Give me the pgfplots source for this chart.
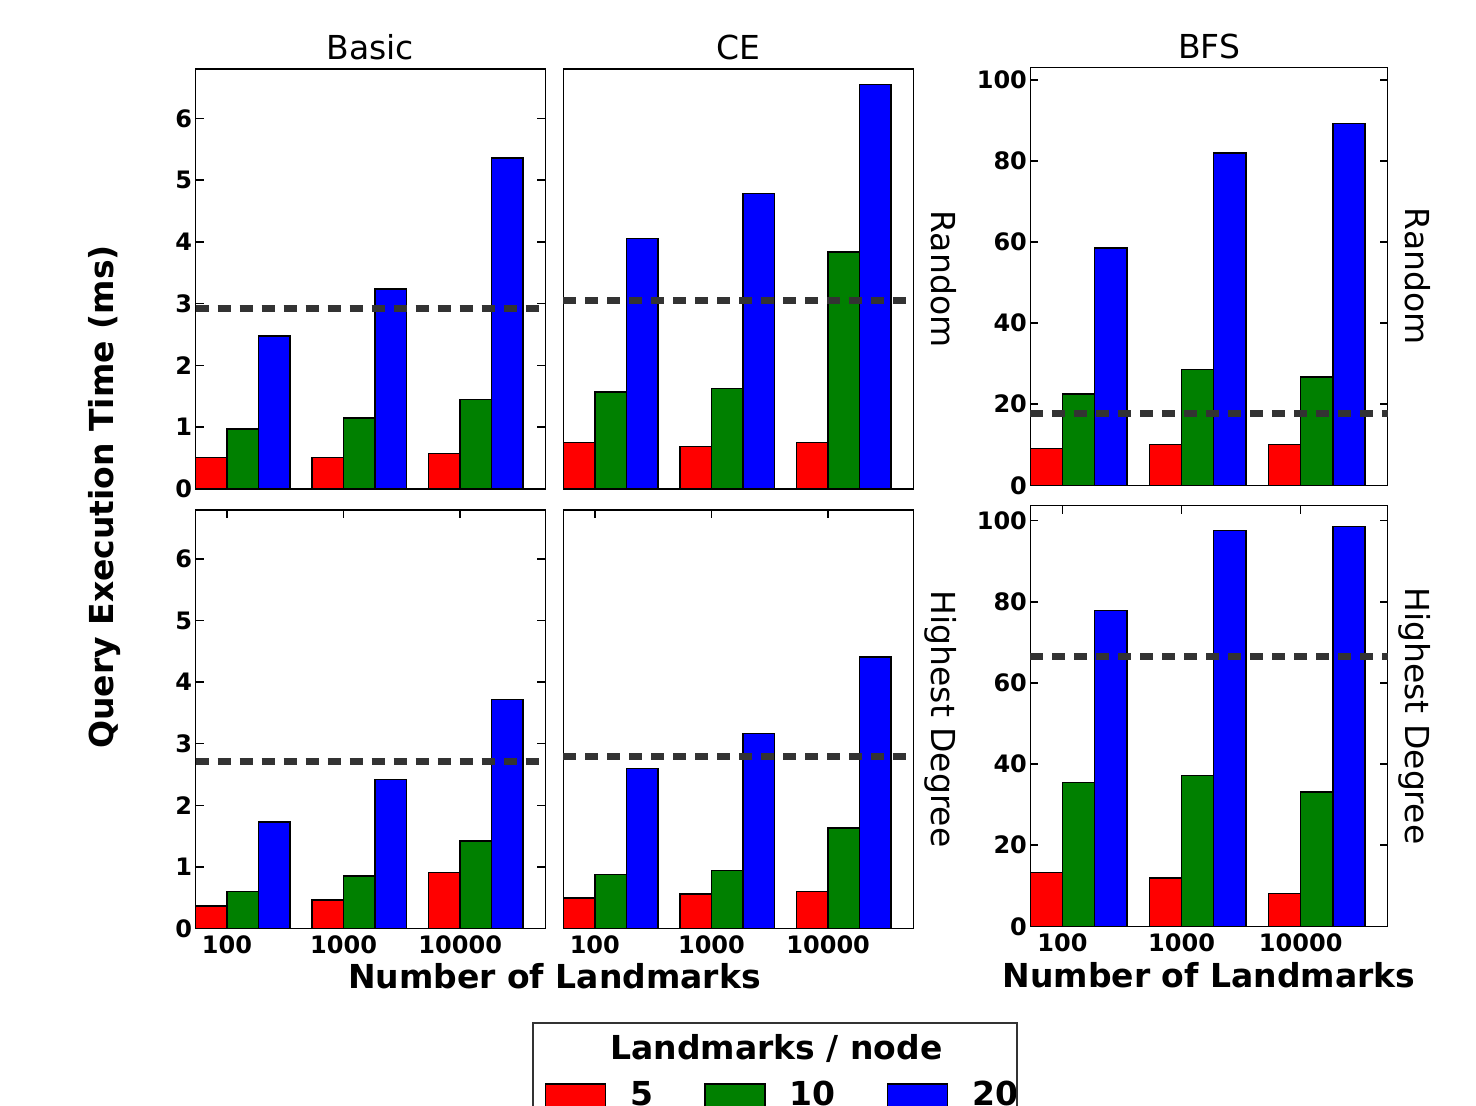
\documentclass[border=0pt]{standalone}
\usepackage{pgfplots}
\usepackage{pgfplotstable}
\pgfplotsset{compat=1.18}
\usepackage{fontspec}
\setmainfont{DejaVu Sans}
\definecolor{mplgreen}{rgb}{0,0.5,0}
\definecolor{dashgray}{rgb}{0.2,0.2,0.2}

% x = group index; r,g,b = 5,10,20 landmarks/node
\pgfplotstableread{
x r g b
0 0.51 0.97 2.48
1 0.51 1.15 3.24
2 0.57 1.45 5.36
}\basicrand
\pgfplotstableread{
x r g b
0 0.75 1.57 4.06
1 0.69 1.63 4.78
2 0.75 3.84 6.55
}\cerand
\pgfplotstableread{
x r g b
0 9.1 22.5 58.5
1 10.1 28.5 82.0
2 10.1 26.7 89.3
}\bfsrand
\pgfplotstableread{
x r g b
0 0.36 0.60 1.73
1 0.46 0.85 2.42
2 0.91 1.42 3.72
}\basichd
\pgfplotstableread{
x r g b
0 0.49 0.87 2.60
1 0.56 0.94 3.17
2 0.60 1.63 4.41
}\cehd
\pgfplotstableread{
x r g b
0 13.3 35.5 77.8
1 11.9 37.2 97.6
2 8.1 33.1 98.5
}\bfshd

\newcommand{\bigfont}{\fontsize{16.5}{19}\selectfont}
\newcommand{\bars}[1]{%
  \addplot[ybar, bar width=0.27, bar shift=0.135, fill=red, draw=black, line width=0.7pt] table[x=x,y=r]{#1};
  \addplot[ybar, bar width=0.27, bar shift=0.405, fill=mplgreen, draw=black, line width=0.7pt] table[x=x,y=g]{#1};
  \addplot[ybar, bar width=0.27, bar shift=0.675, fill=blue, draw=black, line width=0.7pt] table[x=x,y=b]{#1};
}
\newcommand{\refline}[1]{%
  \addplot[dashgray, line width=3.5pt, dash pattern=on 6.5pt off 4.5pt, forget plot] coordinates {(0,#1) (3,#1)};
}

\pgfplotsset{
  panel/.style={
    scale only axis, anchor=south west, clip=false,
    xmin=0, xmax=3, ymin=0,
    axis line style={line width=0.75pt},
    every tick/.style={black, line width=0.75pt},
    tick align=inside, major tick length=4pt,
    ticklabel style={font=\bfseries\fontsize{12}{14}\selectfont},
    /pgf/number format/assume math mode=true,
    yticklabel style={inner sep=1.5pt},
    xticklabel style={inner sep=3.5pt},
    ytick pos=both,
    title style={font=\bigfont, at={(0.5,1)}, anchor=base, yshift=-1.5pt},
  },
  toprow/.style={xtick=\empty},
  botrow/.style={xtick={0.27,1.27,2.27}, xticklabels={100,1000,10000}, xtick pos=both},
  smallscale/.style={ymax=6.8, ytick={0,1,...,6}},
  bfsscale/.style={ytick={0,20,...,100}},
  noy/.style={ytick=\empty},
}

\begin{document}
\begin{tikzpicture}
\useasboundingbox (0,0) rectangle (738pt,553pt);

% ---------- top row ----------
\begin{axis}[panel, toprow, smallscale, at={(97.75pt,308.5pt)}, width=174.9pt, height=210pt, title={Basic}]
\bars{\basicrand}
\refline{2.92}
\end{axis}

\begin{axis}[panel, toprow, smallscale, noy, at={(281.65pt,308.5pt)}, width=175pt, height=210pt, title={CE}]
\bars{\cerand}
\refline{3.05}
\node[rotate=-90, anchor=base, font=\bigfont] at (axis description cs:1.0526,0.5) {Random};
\end{axis}

\begin{axis}[panel, toprow, bfsscale, ymax=103.1, at={(515.15pt,310.35pt)}, width=178.7pt, height=209pt, title={BFS}]
\bars{\bfsrand}
\refline{17.6}
\node[rotate=-90, anchor=base, font=\bigfont] at (axis description cs:1.05,0.5) {Random};
\end{axis}

% ---------- bottom row ----------
\begin{axis}[panel, botrow, smallscale, at={(97.75pt,88.85pt)}, width=174.9pt, height=209.15pt,
  legend columns=3,
  legend style={draw=none, fill=none, inner sep=0pt, outer sep=0pt,
    at={(axis description cs:0.999,-0.399)}, anchor=west,
    font=\bfseries\bigfont,
    nodes={inner sep=0pt},
    /tikz/every odd column/.append style={column sep=12pt},
    /tikz/every even column/.append style={column sep=25.5pt}},
  legend image code/.code={\draw[#1] (0pt,-5.5pt) rectangle (30pt,5.5pt);},
]
\bars{\basichd}
\refline{2.71}
\legend{5,10,20}
\end{axis}

\begin{axis}[panel, botrow, smallscale, noy, at={(281.65pt,88.85pt)}, width=175pt, height=209.15pt]
\bars{\cehd}
\refline{2.80}
\node[rotate=-90, anchor=base, font=\bigfont] at (axis description cs:1.0526,0.5) {Highest Degree};
\end{axis}

\begin{axis}[panel, botrow, bfsscale, ymax=103.7, at={(515.15pt,89.85pt)}, width=178.7pt, height=210.3pt]
\bars{\bfshd}
\refline{66.6}
\node[rotate=-90, anchor=base, font=\bigfont] at (axis description cs:1.05,0.5) {Highest Degree};
\end{axis}

% ---------- shared labels ----------
\node[rotate=90, font=\bfseries\bigfont] at (52.5pt,304.5pt) {Query Execution Time (ms)};
\node[anchor=base, font=\bfseries\bigfont] at (277.2pt,58.5pt) {Number of Landmarks};
\node[anchor=base, font=\bfseries\bigfont] at (604.5pt,59pt) {Number of Landmarks};

% ---------- legend frame and title ----------
\draw[line width=0.75pt, black!80] (266.6pt,-10pt) rectangle (508.6pt,41.5pt);
\node[anchor=base, font=\bfseries\bigfont] at (388.3pt,23pt) {Landmarks / node};
\end{tikzpicture}
\end{document}
